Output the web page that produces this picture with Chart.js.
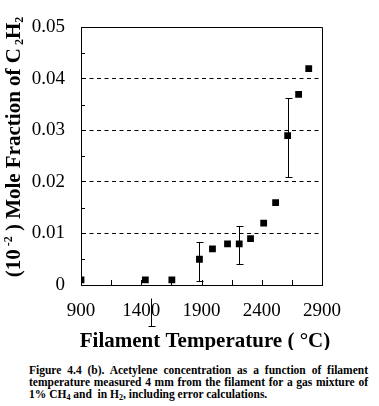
<!DOCTYPE html>
<html><head><meta charset="utf-8">
<script src="https://cdn.jsdelivr.net/npm/chart.js@4"></script>
<style>
html,body{margin:0;padding:0;background:#fff;}
#wrap{position:relative;width:379px;height:406px;overflow:hidden;background:#fff;}
canvas{position:absolute;left:0;top:0;}
#cap{position:absolute;left:29px;top:364px;width:339px;font-family:"Liberation Serif",serif;font-weight:bold;font-size:11.5px;line-height:12px;color:#000;}
#cap .j{text-align:justify;text-align-last:justify;}
#cap sub{font-size:8px;line-height:0;vertical-align:-2px;}
</style></head><body>
<div id="wrap"><canvas id="c" width="379" height="350"></canvas>
<div id="cap"><div class="j">Figure 4.4 (b). Acetylene concentration as a function of filament</div><div class="j">temperature measured 4 mm from the filament for a gas mixture of</div><div>1% CH<sub>4</sub> and&nbsp; in H<sub>2</sub>, including error calculations.</div></div></div>
<script>
const temps = [900, 1434, 1654, 1883, 1991, 2116, 2213, 2307, 2416, 2515, 2615, 2706, 2790];
const moleFrac = [0.001, 0.001, 0.001, 0.005, 0.007, 0.008, 0.008, 0.009, 0.012, 0.016, 0.029, 0.037, 0.042];
const errIndex = [3, 6, 10];
const errLow = [0.0007, 0.0040, 0.0209];
const errHigh = [0.0084, 0.0115, 0.0362];
const strayErrTemp = [1480];
const strayErrLow = [-0.0079];
const strayErrHigh = [-0.0026];
const xTickLabels = ['900', '1400', '1900', '2400', '2900'];
const yTickLabels = ['0', '0.01', '0.02', '0.03', '0.04', '0.05'];
const xTickMarks = [1150, 1400, 1650, 1900, 2150, 2400, 2650];
const yTickMarks = [0.005, 0.015, 0.025, 0.035, 0.045];
const xTitle = 'Filament Temperature ( \u00B0C)';

const serif = 'Liberation Serif';

const deco = {
  id: 'deco',
  afterDraw(chart) {
    const {ctx, chartArea: a, scales: {x, y}} = chart;
    const al = v => Math.round(v) + 0.5;
    ctx.save();
    ctx.strokeStyle = '#000';
    ctx.fillStyle = '#000';
    ctx.lineWidth = 1;
    ctx.setLineDash([]);
    // top & right frame
    ctx.beginPath();
    ctx.moveTo(al(a.left), al(a.top));
    ctx.lineTo(al(a.right), al(a.top));
    ctx.lineTo(al(a.right), al(a.bottom));
    ctx.stroke();
    // inner tick marks
    ctx.beginPath();
    xTickMarks.forEach(v => {
      const px = al(x.getPixelForValue(v));
      ctx.moveTo(px, a.bottom); ctx.lineTo(px, a.bottom - 5);
    });
    yTickMarks.forEach(v => {
      const py = al(y.getPixelForValue(v));
      ctx.moveTo(a.left, py); ctx.lineTo(a.left + 4, py);
    });
    ctx.stroke();
    // error bars
    ctx.beginPath();
    errIndex.forEach((idx, k) => {
      const px = al(x.getPixelForValue(temps[idx]));
      const yl = al(y.getPixelForValue(errLow[k]));
      const yh = al(y.getPixelForValue(errHigh[k]));
      ctx.moveTo(px, yl); ctx.lineTo(px, yh);
      ctx.moveTo(px - 3, yl); ctx.lineTo(px + 4, yl);
      ctx.moveTo(px - 3, yh); ctx.lineTo(px + 4, yh);
    });
    strayErrTemp.forEach((t, k) => {
      const px = al(x.getPixelForValue(t));
      const yl = al(y.getPixelForValue(strayErrLow[k]));
      const yh = al(y.getPixelForValue(strayErrHigh[k]));
      ctx.moveTo(px, yl); ctx.lineTo(px, yh);
      ctx.moveTo(px - 3, yl); ctx.lineTo(px + 4, yl);
    });
    ctx.stroke();
    // x title
    ctx.font = 'bold 21px "' + serif + '", serif';
    ctx.textAlign = 'center';
    ctx.textBaseline = 'alphabetic';
    ctx.fillText(xTitle, 205, 346.5);
    // y title with super/subscripts
    const big = 'bold 21px "' + serif + '", serif', small = 'bold 12px "' + serif + '", serif';
    const parts = [
      {t: '(10', f: big, dy: 0},
      {t: ' -2', f: small, dy: -8},
      {t: ' ) Mole Fraction of C', f: big, dy: 0},
      {t: ' 2', f: small, dy: 3},
      {t: 'H', f: big, dy: 0},
      {t: '2', f: small, dy: 3}
    ];
    let total = 0;
    parts.forEach(p => { ctx.font = p.f; p.w = ctx.measureText(p.t).width; total += p.w; });
    ctx.translate(20, 147);
    ctx.rotate(-Math.PI / 2);
    ctx.textAlign = 'left';
    let cx = -total / 2;
    parts.forEach(p => { ctx.font = p.f; ctx.fillText(p.t, cx, p.dy); cx += p.w; });
    ctx.restore();
  }
};

new Chart(document.getElementById('c').getContext('2d'), {
  type: 'scatter',
  data: {
    datasets: [{
      data: temps.map((t, i) => ({x: t, y: moleFrac[i]})),
      pointStyle: 'rect',
      pointRadius: 4.8,
      pointHoverRadius: 4.8,
      backgroundColor: '#000',
      borderWidth: 0,
      clip: 0
    }]
  },
  options: {
    responsive: false,
    animation: false,
    events: [],
    plugins: {legend: {display: false}, tooltip: {enabled: false}},
    layout: {padding: {left: 0, right: 57, top: 13, bottom: 0}},
    scales: {
      x: {
        type: 'linear', min: 900, max: 2900,
        afterFit: s => { s.height = 65; },
        ticks: {stepSize: 500, padding: 15, maxRotation: 0, color: '#000',
          font: {family: serif, size: 19},
          callback: (v, i) => xTickLabels[i]},
        grid: {display: false, drawTicks: false},
        border: {display: true, color: '#000', width: 1}
      },
      y: {
        min: 0, max: 0.05,
        afterFit: s => { s.width = 81; },
        ticks: {stepSize: 0.01, padding: 16, color: '#000',
          font: {family: serif, size: 19},
          callback: (v, i) => yTickLabels[i]},
        grid: {drawTicks: false, lineWidth: 1,
          color: c => (c.tick && c.tick.value > 0.0001 && c.tick.value < 0.0499) ? '#000' : 'rgba(0,0,0,0)'},
        border: {display: true, color: '#000', width: 1, dash: [4, 3.5]}
      }
    }
  },
  plugins: [deco]
});
</script>
</body></html>
